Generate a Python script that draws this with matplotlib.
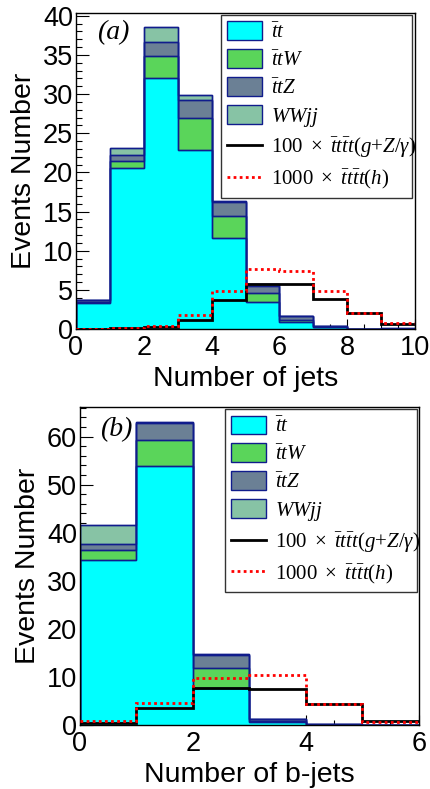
import numpy as np
import matplotlib
matplotlib.use("Agg")
import matplotlib.pyplot as plt
from matplotlib.patches import Patch
from matplotlib.lines import Line2D
from matplotlib.ticker import MultipleLocator

plt.rcParams['font.family'] = ['Liberation Sans', 'DejaVu Sans']
plt.rcParams['mathtext.fontset'] = 'custom'
plt.rcParams['mathtext.it'] = 'Liberation Serif:italic'
plt.rcParams['mathtext.rm'] = 'Liberation Serif'

# ---------------- data ----------------
jet_edges = np.arange(0, 11)
jets_tt = [3.3, 20.6, 32.0, 22.8, 11.6, 3.5, 0.9, 0.2, 0.03, 0.0]
jets_ttW = [0.1, 0.8, 2.9, 4.1, 2.8, 1.15, 0.3, 0.05, 0.0, 0.0]
jets_ttZ = [0.25, 0.8, 1.7, 2.4, 1.8, 0.85, 0.4, 0.15, 0.02, 0.0]
jets_WWjj = [0.05, 0.9, 2.0, 0.6, 0.1, 0.3, 0.1, 0.0, 0.0, 0.1]
jets_sig100 = [0.05, 0.1, 0.25, 1.15, 3.7, 5.7, 5.8, 3.8, 2.0, 0.7]
jets_sig1000 = [0.05, 0.1, 0.35, 1.75, 4.8, 7.65, 7.4, 4.8, 2.1, 0.8]

bjet_edges = np.arange(0, 7)
bjets_tt = [34.3, 53.8, 7.6, 0.6, 0.1, 0.02]
bjets_ttW = [2.0, 5.4, 4.3, 0.2, 0.0, 0.0]
bjets_ttZ = [1.4, 3.6, 2.7, 0.5, 0.05, 0.0]
bjets_WWjj = [3.9, 0.2, 0.1, 0.0, 0.0, 0.0]
bjets_sig100 = [0.5, 3.5, 7.8, 7.4, 4.3, 0.8]
bjets_sig1000 = [0.9, 4.5, 9.7, 10.3, 4.4, 0.7]

labels = [r'$\bar{t}t$', r'$\bar{t}tW$', r'$\bar{t}tZ$', r'$WWjj$',
          r'$\mathit{100}\ \times\ \bar{t}t\bar{t}t(g{+}Z/\gamma)$',
          r'$\mathit{1000}\ \times\ \bar{t}t\bar{t}t(h)$']
colors = ['#00FFFF', '#5AD55A', '#6B8095', '#87C3A5']
edge = '#101C8C'

fig = plt.figure(figsize=(4.31, 7.89), dpi=100)


def panel(rect, edges, comps, s100, s1000, xlabel, ymax, ymajor, yminor,
          tag, leg_box, tag_pos):
    ax = fig.add_axes(rect)
    cum = np.cumsum(np.array(comps, dtype=float), axis=0)
    for i in range(len(comps) - 1, -1, -1):
        ax.stairs(cum[i], edges, fill=True, facecolor=colors[i],
                  edgecolor=edge, linewidth=1.0, zorder=2 + (3 - i) * 0.1)
        ax.stairs(cum[i], edges, fill=False, edgecolor=edge, linewidth=1.0,
                  baseline=0, zorder=2.5)
    ax.stairs(s100, edges, color='black', linewidth=2.0, baseline=None, zorder=4)
    ax.stairs(s1000, edges, color='red', linewidth=2.0, linestyle=(0, (1, 1.2)),
              baseline=None, zorder=4)
    ax.set_xlim(edges[0], edges[-1])
    ax.set_ylim(0, ymax)
    ax.xaxis.set_major_locator(MultipleLocator(2))
    ax.xaxis.set_minor_locator(MultipleLocator(0.5))
    ax.yaxis.set_major_locator(MultipleLocator(ymajor))
    ax.yaxis.set_minor_locator(MultipleLocator(yminor))
    ax.tick_params(which='both', direction='in', top=False, right=False,
                   labelsize=19.5, width=0.8)
    ax.tick_params(axis='y', which='major', length=9, pad=2)
    ax.tick_params(axis='y', which='minor', length=4.5)
    ax.tick_params(axis='x', which='major', length=7, pad=4)
    ax.tick_params(axis='x', which='minor', length=3.5)
    for sp in ax.spines.values():
        sp.set_linewidth(1.0)
    ax.set_xlabel(xlabel, fontsize=20.5, labelpad=4)
    ax.set_ylabel('Events Number', fontsize=20.5, labelpad=4)
    ax.text(tag_pos[0], tag_pos[1], tag, transform=ax.transAxes,
            fontsize=20, family='Liberation Serif', style='italic',
            ha='center', va='center')
    handles = [Patch(facecolor=c, edgecolor=edge, linewidth=1.0) for c in colors]
    handles += [Line2D([], [], color='black', linewidth=2.0),
                Line2D([], [], color='red', linewidth=2.0, linestyle=(0, (1, 1.2)))]
    leg = ax.legend(handles, labels, loc='upper left', bbox_to_anchor=leg_box,
                    mode='expand', fontsize=15, frameon=True, fancybox=False,
                    edgecolor='#333333', framealpha=1, borderaxespad=0,
                    handlelength=1.65, handleheight=1.0, labelspacing=0.36,
                    handletextpad=0.45, borderpad=0.3)
    leg.get_frame().set_linewidth(1.0)
    leg.set_zorder(6)
    return ax


panel([0.1763, 0.583, 0.7867, 0.400], jet_edges,
      [jets_tt, jets_ttW, jets_ttZ, jets_WWjj], jets_sig100, jets_sig1000,
      'Number of jets', 40.3, 5, 1, '(a)',
      (0.428, 0.418, 0.563, 0.577), (0.109, 0.938))

panel([0.1856, 0.0811, 0.7859, 0.4034], bjet_edges,
      [bjets_tt, bjets_ttW, bjets_ttZ, bjets_WWjj], bjets_sig100, bjets_sig1000,
      'Number of b-jets', 66.2, 10, 2, '(b)',
      (0.428, 0.416, 0.566, 0.576), (0.106, 0.927))

fig.savefig('out.png', dpi=100)
